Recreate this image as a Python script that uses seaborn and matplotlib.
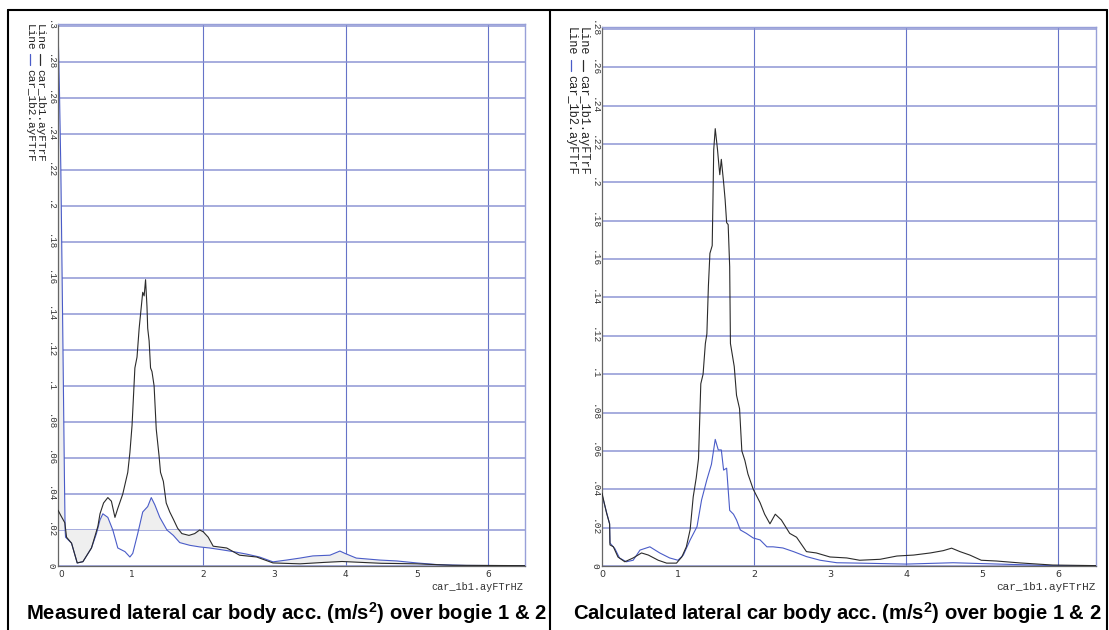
import numpy as np
import pandas as pd
import seaborn as sns
import matplotlib.pyplot as plt
from matplotlib.lines import Line2D

# measured spectra (left panel), frequency in Hz, acceleration in m/s^2
meas_x_1b1 = [-0.04, 0.0, 0.056, 0.08, 0.15, 0.23, 0.31, 0.43, 0.52, 0.55, 0.60, 0.66, 0.71,
              0.76, 0.80, 0.87, 0.94, 0.97, 1.00, 1.04, 1.07, 1.10, 1.15, 1.17, 1.19, 1.21,
              1.22, 1.24, 1.26, 1.28, 1.31, 1.34, 1.38, 1.40, 1.44, 1.48, 1.53, 1.58, 1.64,
              1.70, 1.80, 1.88, 1.95, 2.00, 2.07, 2.14, 2.33, 2.51, 2.75, 2.98, 3.36, 3.70,
              3.95, 4.50, 5.00, 5.50, 6.52]
meas_y_1b1 = [0.031, 0.028, 0.024, 0.016, 0.0127, 0.0017, 0.0024, 0.010, 0.022, 0.029, 0.035,
              0.038, 0.036, 0.027, 0.032, 0.040, 0.052, 0.063, 0.078, 0.110, 0.116, 0.132,
              0.152, 0.150, 0.159, 0.144, 0.132, 0.125, 0.110, 0.108, 0.100, 0.076, 0.061,
              0.052, 0.047, 0.035, 0.030, 0.026, 0.021, 0.018, 0.017, 0.018, 0.020, 0.019,
              0.016, 0.011, 0.010, 0.006, 0.005, 0.0017, 0.0012, 0.002, 0.0025, 0.0015,
              0.0012, 0.0004, 0.0002]
meas_x_1b2 = [-0.04, -0.02, 0.0, 0.03, 0.05, 0.06, 0.066, 0.15, 0.23, 0.31, 0.43, 0.50, 0.55,
              0.59, 0.66, 0.73, 0.80, 0.90, 0.97, 1.01, 1.08, 1.15, 1.22, 1.27, 1.32, 1.39,
              1.49, 1.58, 1.67, 1.81, 1.95, 2.09, 2.26, 2.42, 2.61, 2.79, 2.98, 3.17, 3.36,
              3.54, 3.78, 3.92, 3.99, 4.15, 4.48, 4.72, 5.00, 5.28, 5.70, 6.52]
meas_y_1b2 = [0.300, 0.265, 0.220, 0.120, 0.050, 0.020, 0.016, 0.0127, 0.0017, 0.0024, 0.010,
              0.018, 0.0256, 0.029, 0.027, 0.020, 0.010, 0.008, 0.005, 0.007, 0.018, 0.030,
              0.033, 0.038, 0.034, 0.027, 0.020, 0.017, 0.013, 0.0115, 0.0106, 0.010, 0.009,
              0.008, 0.0066, 0.005, 0.0023, 0.0033, 0.0044, 0.0056, 0.006, 0.0083, 0.007,
              0.0044, 0.0033, 0.0028, 0.0017, 0.0008, 0.0003, 0.0002]

# calculated spectra (right panel)
calc_x_1b1 = [0.0, 0.06, 0.10, 0.105, 0.15, 0.21, 0.30, 0.41, 0.52, 0.61, 0.74, 0.85, 0.98,
              1.05, 1.11, 1.16, 1.20, 1.24, 1.27, 1.30, 1.33, 1.36, 1.38, 1.40, 1.42, 1.45,
              1.46, 1.47, 1.49, 1.52, 1.54, 1.55, 1.57, 1.60, 1.62, 1.64, 1.66, 1.68, 1.69,
              1.74, 1.77, 1.81, 1.84, 1.88, 1.92, 1.99, 2.08, 2.14, 2.21, 2.28, 2.36, 2.47,
              2.56, 2.69, 2.82, 3.00, 3.22, 3.39, 3.66, 3.88, 4.10, 4.32, 4.49, 4.60, 4.71,
              4.84, 4.99, 5.19, 5.50, 5.93, 6.50]
calc_y_1b1 = [0.038, 0.0276, 0.022, 0.011, 0.010, 0.0047, 0.0022, 0.0042, 0.0068, 0.0057,
              0.003, 0.0015, 0.0015, 0.0047, 0.010, 0.019, 0.036, 0.046, 0.056, 0.095, 0.100,
              0.116, 0.121, 0.146, 0.163, 0.167, 0.191, 0.217, 0.228, 0.217, 0.208, 0.204,
              0.212, 0.200, 0.191, 0.179, 0.178, 0.156, 0.116, 0.104, 0.089, 0.082, 0.060,
              0.055, 0.048, 0.040, 0.033, 0.027, 0.022, 0.027, 0.024, 0.017, 0.015, 0.0075,
              0.0068, 0.0047, 0.0042, 0.003, 0.0035, 0.0052, 0.0057, 0.0068, 0.008, 0.0093,
              0.0075, 0.0057, 0.003, 0.0026, 0.0016, 0.0005, 0.0002]
calc_x_1b2 = [0.0, 0.10, 0.105, 0.17, 0.23, 0.32, 0.41, 0.50, 0.63, 0.76, 0.89, 1.00, 1.07,
              1.16, 1.25, 1.31, 1.38, 1.44, 1.49, 1.53, 1.57, 1.60, 1.64, 1.68, 1.73, 1.77,
              1.82, 1.90, 1.99, 2.08, 2.17, 2.25, 2.38, 2.52, 2.69, 2.87, 3.09, 3.39, 4.00,
              4.62, 5.05, 5.93, 6.50]
calc_y_1b2 = [0.037, 0.022, 0.012, 0.009, 0.0042, 0.0022, 0.003, 0.0083, 0.010, 0.0068,
              0.0042, 0.003, 0.0057, 0.0136, 0.0205, 0.0344, 0.045, 0.053, 0.066, 0.0605,
              0.0605, 0.050, 0.051, 0.029, 0.027, 0.024, 0.0188, 0.017, 0.0146, 0.0136,
              0.010, 0.010, 0.0094, 0.0075, 0.0049, 0.003, 0.0017, 0.0015, 0.0010, 0.0017,
              0.0012, 0.0002, 0.0001]

x_ticks = [0, 1, 2, 3, 4, 5, 6]
x_grid = [2, 4, 6]
y_ticks_meas = np.round(np.arange(0, 0.301, 0.02), 2)
y_ticks_calc = np.round(np.arange(0, 0.281, 0.02), 2)
series_names = ['car_1b1.ayFTrF', 'car_1b2.ayFTrF']
x_name = 'car_1b1.ayFTrHZ'
captions = ['Measured lateral car body acc. (m/s$^{\\mathbf{2}}$) over bogie 1 & 2',
            'Calculated lateral car body acc. (m/s$^{\\mathbf{2}}$) over bogie 1 & 2']

BLACK = '#2b2b2b'
BLUE = '#4a5cc8'
GRID = '#8790d2'
VGRID = '#6573c8'

sns.set_style('white')
plt.rcParams['font.family'] = ['Liberation Sans', 'DejaVu Sans']
plt.rcParams['mathtext.fontset'] = 'custom'
plt.rcParams['mathtext.bf'] = 'Liberation Sans:bold'
plt.rcParams['mathtext.rm'] = 'Liberation Sans'

W, H = 1109, 630
fig = plt.figure(figsize=(W / 100, H / 100), dpi=100)
ax1 = fig.add_axes([58 / W, 64 / H, 467 / W, 542 / H])
ax2 = fig.add_axes([602 / W, 64 / H, 494 / W, 539 / H])


def tick_fmt(v):
    return '0' if v == 0 else ('%g' % v).lstrip('0')


def style_axes(ax, xlim, ylim, yticks, fs):
    ax.set_xlim(*xlim)
    ax.set_ylim(*ylim)
    ax.set_yticks(yticks)
    ax.set_yticklabels([tick_fmt(v) for v in yticks], rotation=-90,
                       family='Liberation Mono', fontsize=fs, va='center')
    ax.set_xticks(x_ticks)
    ax.set_xticklabels([str(v) for v in x_ticks], family='DejaVu Sans', fontsize=fs)
    ax.set_xticks(np.arange(0.5, 6.6, 1.0), minor=True)
    ax.tick_params(axis='y', length=0, pad=2, colors='#333333')
    ax.tick_params(axis='x', which='both', direction='in', length=3, pad=3,
                   color='#777777', labelcolor='#333333')
    ax.yaxis.grid(True, color=GRID, lw=1.3, alpha=0.8)
    ax.xaxis.grid(False)
    ax.vlines(x_grid, 0, 1, transform=ax.get_xaxis_transform(),
              colors=VGRID, lw=0.8, zorder=0.5)
    for s in ['left', 'bottom']:
        ax.spines[s].set_color('#666666')
        ax.spines[s].set_linewidth(0.9)
    for s in ['top', 'right']:
        ax.spines[s].set_color('#98a0d8')
        ax.spines[s].set_linewidth(1.0)
    ax.set_xlabel('')
    ax.set_ylabel('')


# left panel: measured
df_m1 = pd.DataFrame({'f': meas_x_1b1, 'a': meas_y_1b1})
df_m2 = pd.DataFrame({'f': meas_x_1b2, 'a': meas_y_1b2})
sns.lineplot(data=df_m1, x='f', y='a', ax=ax1, color=BLACK, lw=0.8, estimator=None, zorder=3)
sns.lineplot(data=df_m2, x='f', y='a', ax=ax1, color=BLUE, lw=0.8, estimator=None, zorder=2)
style_axes(ax1, (-0.04, 6.52), (0, 0.301), y_ticks_meas, 6.5)

# light shading between the measured curves
xs = np.union1d(meas_x_1b1, meas_x_1b2)
b1 = np.interp(xs, meas_x_1b1, meas_y_1b1)
b2 = np.interp(xs, meas_x_1b2, meas_y_1b2)
edge = np.where(xs < 0.57, 0.02, np.minimum(b1, 0.02))
shade = (xs < 0.57) | (b2 > 0.02) | (xs > 1.45)
ax1.fill_between(xs, b2, edge, where=shade, color='#efefef', lw=0,
                 edgecolor='none', zorder=1)

# right panel: calculated
df_c1 = pd.DataFrame({'f': calc_x_1b1, 'a': calc_y_1b1})
df_c2 = pd.DataFrame({'f': calc_x_1b2, 'a': calc_y_1b2})
sns.lineplot(data=df_c1, x='f', y='a', ax=ax2, color=BLACK, lw=0.8, estimator=None, zorder=3)
sns.lineplot(data=df_c2, x='f', y='a', ax=ax2, color=BLUE, lw=0.8, estimator=None, zorder=2)
style_axes(ax2, (0, 6.5), (0, 0.281), y_ticks_calc, 6.8)

# x names
ax1.text(0.996, -0.039, x_name, transform=ax1.transAxes, ha='right', va='center',
         family='Liberation Mono', fontsize=7.4, color='#333333')
ax2.text(1.0, -0.039, x_name, transform=ax2.transAxes, ha='right', va='center',
         family='Liberation Mono', fontsize=7.9, color='#333333')


# rotated legends
def legend_col(px, top, dash, name_top, name, color, fs):
    fig.text(px / W, 1 - top / H, 'Line', rotation=-90, ha='center', va='top',
             family='Liberation Mono', fontsize=fs, color='#222222')
    fig.add_artist(Line2D([px / W, px / W], [1 - dash[0] / H, 1 - dash[1] / H],
                          color=color, lw=0.9, transform=fig.transFigure))
    fig.text(px / W, 1 - name_top / H, name, rotation=-90, ha='center', va='top',
             family='Liberation Mono', fontsize=fs, color='#222222')


legend_col(40, 24, (54, 65), 69, series_names[0], BLACK, 8.0)
legend_col(30, 24, (54, 65), 69, series_names[1], BLUE, 8.0)
legend_col(583, 27, (60, 71), 75, series_names[0], BLACK, 8.6)
legend_col(571, 27, (60, 71), 75, series_names[1], BLUE, 8.6)

# captions
fig.text(286 / W, 1 - 613 / H, captions[0], ha='center', va='center',
         fontsize=14.6, fontweight='bold', color='black')
fig.text(837 / W, 1 - 613 / H, captions[1], ha='center', va='center',
         fontsize=14.6, fontweight='bold', color='black')

# frame lines around the two panels
for fx, fy in [([8, 8], [10, H + 5]), ([8, 1107], [10, 10]),
               ([550, 550], [10, H + 5]), ([1107, 1107], [10, H + 5])]:
    fig.add_artist(Line2D([v / W for v in fx], [1 - v / H for v in fy],
                          color='black', lw=1.5, transform=fig.transFigure))

fig.savefig('out.png', dpi=100)
